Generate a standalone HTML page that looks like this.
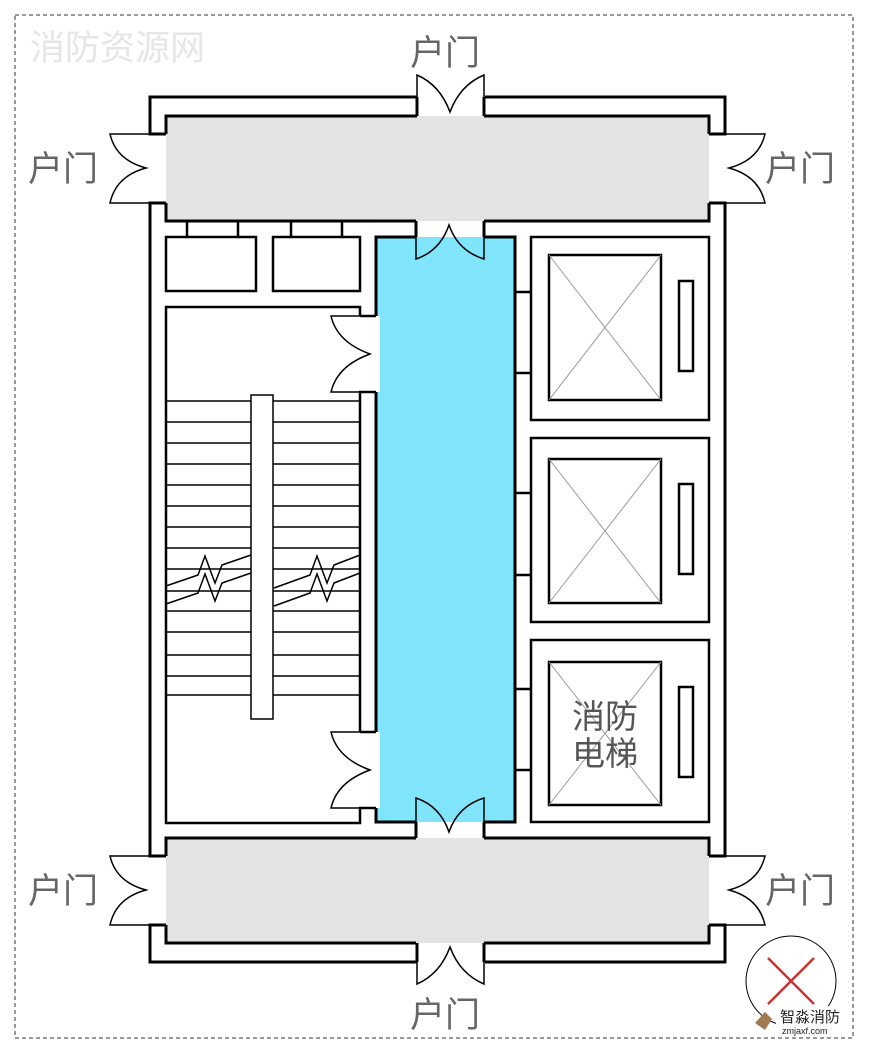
<!DOCTYPE html>
<html><head><meta charset="utf-8"><style>
html,body{margin:0;padding:0;background:#fff;}
svg{display:block;}
text{font-family:"Liberation Sans","Noto Sans CJK SC",sans-serif;}
</style></head><body>
<svg width="870" height="1042" viewBox="0 0 870 1042" xmlns="http://www.w3.org/2000/svg">
<rect x="15" y="15" width="838" height="1023" fill="none" stroke="#333" stroke-width="1" stroke-dasharray="4,3"/>
<text x="30" y="60" font-size="35" fill="#e6e6e6">消防资源网</text>

<g fill="none" stroke="#000" stroke-width="3">
<path d="M417,97 H150 V134 H166"/>
<path d="M485,97 H725 V134 H709"/>
<path d="M166,203 H150 V856 H166"/>
<path d="M709,203 H725 V856 H709"/>
<path d="M166,925 H150 V962 H417"/>
<path d="M709,925 H725 V962 H485"/>
</g>
<rect x="166" y="116" width="543" height="105" fill="#e3e3e4"/>
<rect x="166" y="838" width="543" height="105" fill="#e3e3e4"/>
<rect x="416" y="221" width="68" height="16" fill="#fff"/>
<rect x="416" y="822" width="68" height="16" fill="#fff"/>
<g fill="none" stroke="#000" stroke-width="3">
<path d="M417,116 H166 V134 M166,203 V221 H416"/>
<path d="M484,116 H709 V134 M709,203 V221 H484"/>
<path d="M416,838 H166 V856 M166,925 V943 H416"/>
<path d="M484,838 H709 V856 M709,925 V943 H484"/>
<path d="M417,97 V116 M484,97 V116 M417,943 V962 M484,943 V962"/>
<path d="M416,221 V237 M484,221 V237 M416,822 V838 M484,822 V838"/>
</g>
<g fill="none" stroke="#000" stroke-width="2.5">
<rect x="166" y="237" width="90" height="54"/>
<rect x="273" y="237" width="87" height="54"/>
<path d="M187,221 V237 M238,221 V237 M291,221 V237 M342,221 V237"/>
</g>
<rect x="376" y="237" width="139" height="585" fill="#80e5fa"/>
<rect x="360" y="316" width="20" height="76" fill="#fff"/>
<rect x="360" y="732" width="20" height="76" fill="#fff"/>
<g fill="none" stroke="#000" stroke-width="3">
<path d="M376,316 V237 H416 M484,237 H515 V822 H484 M416,822 H376 V808"/>
<path d="M376,392 V732"/>
</g>
<g fill="none" stroke="#000" stroke-width="2.5">
<path d="M360,316 V307 H166 V823 H360 V808 H376"/>
<path d="M376,316 H360"/>
<path d="M360,732 V392 H376 M360,732 H376"/>
</g>
<g stroke="#000" stroke-width="1.5">
<line x1="166" y1="401" x2="360" y2="401"/>
<line x1="166" y1="422" x2="360" y2="422"/>
<line x1="166" y1="443" x2="360" y2="443"/>
<line x1="166" y1="464" x2="360" y2="464"/>
<line x1="166" y1="485" x2="360" y2="485"/>
<line x1="166" y1="506" x2="360" y2="506"/>
<line x1="166" y1="527" x2="360" y2="527"/>
<line x1="166" y1="548" x2="360" y2="548"/>
<line x1="166" y1="569" x2="360" y2="569"/>
<line x1="166" y1="591" x2="360" y2="591"/>
<line x1="166" y1="611" x2="360" y2="611"/>
<line x1="166" y1="632" x2="360" y2="632"/>
<line x1="166" y1="655" x2="360" y2="655"/>
<line x1="166" y1="676" x2="360" y2="676"/>
<line x1="166" y1="695" x2="360" y2="695"/>
</g>
<rect x="251" y="395" width="22" height="324" fill="#fff" stroke="#000" stroke-width="1.5"/>
<g fill="none" stroke="#000" stroke-width="1.5">
<polyline points="166,586 198,575 205,556 215,583 222,565 251,555"/>
<polyline points="166,604 198,593 205,574 215,601 222,583 251,573"/>
<polyline points="274,588 310,575 317,556 327,583 334,565 360,555"/>
<polyline points="274,606 310,593 317,574 327,601 334,583 360,573"/>
</g>
<g fill="none" stroke="#000" stroke-width="2.5">
<rect x="531" y="237" width="178" height="183"/>
<rect x="531" y="438" width="178" height="184"/>
<rect x="531" y="640" width="178" height="182"/>
<rect x="549" y="255" width="112" height="145"/>
<rect x="549" y="459" width="112" height="144"/>
<rect x="549" y="662" width="112" height="143"/>
<rect x="679" y="281" width="14" height="90"/>
<rect x="679" y="484" width="14" height="90"/>
<rect x="679" y="687" width="14" height="90"/>
<path d="M515,292 H531 M515,373 H531 M515,493 H531 M515,575 H531 M515,689 H531 M515,770 H531"/>
</g>
<g stroke="#999" stroke-width="1">
<path d="M549,255 L661,400 M661,255 L549,400"/>
<path d="M549,459 L661,603 M661,459 L549,603"/>
<path d="M549,662 L661,805 M661,662 L549,805"/>
</g>
<text x="605" y="728" font-size="33" fill="#555" text-anchor="middle">消防</text>
<text x="605" y="765" font-size="33" fill="#555" text-anchor="middle">电梯</text>

<g fill="none" stroke="#000" stroke-width="1.5">
<path d="M417,97 V75 Q440,85 450,112 Q460,85 484,75 V97"/>
<path d="M417,962 V984 Q440,974 450,947 Q460,974 484,984 V962"/>
<path d="M416,237 V259 Q440,251 449,225 Q458,251 484,259 V237"/>
<path d="M416,822 V798 Q440,806 449,832 Q458,806 484,798 V822"/>
<path d="M166,134 H110 Q116,160 146,168 Q116,176 110,203 H166"/>
<path d="M709,134 H765 Q759,160 729,168 Q759,176 765,203 H709"/>
<path d="M166,856 H110 Q116,882 146,890 Q116,898 110,925 H166"/>
<path d="M709,856 H765 Q759,882 729,890 Q759,898 765,925 H709"/>
<path d="M376,316 H331 Q337,342 370,354 Q337,366 331,392 H376"/>
<path d="M376,732 H331 Q337,758 370,770 Q337,782 331,808 H376"/>
</g>

<g font-size="35" fill="#666" text-anchor="middle">
<text x="445" y="65">户门</text>
<text x="63" y="181">户门</text>
<text x="800" y="181">户门</text>
<text x="63" y="903">户门</text>
<text x="800" y="903">户门</text>
<text x="445" y="1027">户门</text>
</g>

<circle cx="791" cy="981" r="45" fill="none" stroke="#000" stroke-width="1"/>
<path d="M768,958 L814,1004 M814,958 L768,1004" stroke="#c33" stroke-width="2.5"/>
<rect x="776" y="1006" width="58" height="28" fill="#fff"/>
<path d="M755,1023 L765,1012 L772,1019 L765,1030 Z" fill="#a07a50"/>
<text x="780" y="1022" font-size="15" fill="#222">智淼消防</text>
<text x="782" y="1034" font-size="9" fill="#222" font-family="Liberation Mono,monospace">zmjaxf.com</text>
</svg>
</body></html>
